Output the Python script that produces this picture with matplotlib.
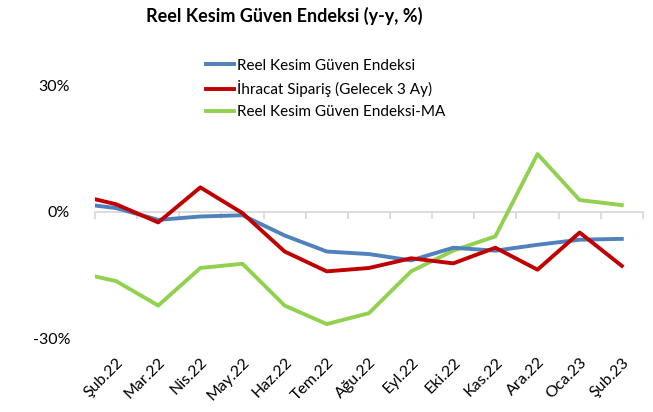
import numpy as np
import matplotlib
matplotlib.use("Agg")
import matplotlib.pyplot as plt

plt.rcParams['font.family'] = ['Lato', 'DejaVu Sans']

# Veriler (Oca.22 sadece sol kenardaki çizgi parçası için)
aylar = ['Oca.22', 'Şub.22', 'Mar.22', 'Nis.22', 'May.22', 'Haz.22', 'Tem.22',
         'Ağu.22', 'Eyl.22', 'Eki.22', 'Kas.22', 'Ara.22', 'Oca.23', 'Şub.23']
reel_kesim = [2.1, 0.9, -1.9, -1.1, -0.8, -5.6, -9.4, -10.0, -11.5, -8.5, -9.2, -7.8, -6.6, -6.4]
ihracat = [4.2, 1.8, -2.5, 5.8, -0.3, -9.4, -14.1, -13.3, -11.0, -12.2, -8.5, -13.7, -4.9, -12.8]
reel_kesim_ma = [-14.2, -16.4, -22.2, -13.3, -12.3, -22.2, -26.6, -24.0, -14.1, -9.2, -5.8, 13.7, 2.8, 1.6]

x = np.arange(len(aylar)) - 1

fig = plt.figure(figsize=(6.53, 4.12), dpi=100)
ax = fig.add_axes([0.1455, 0.158, 0.839, 0.717])

ymin, ymax = -32, 38
ax.set_ylim(ymin, ymax)
ax.set_xlim(-0.5, 12.5)

# sıfır çizgisi ve kategori çentikleri
sec = ax.secondary_xaxis((0 - ymin) / (ymax - ymin))
sec.spines['bottom'].set_color('#d9d9d9')
sec.spines['bottom'].set_linewidth(1.3)
sec.set_xticks(np.arange(-0.5, 13, 1))
sec.tick_params(axis='x', length=5, width=1.3, color='#d9d9d9', labelbottom=False)

ax.plot(x, reel_kesim, color='#4F81BD', lw=2.8, label='Reel Kesim Güven Endeksi', zorder=3)
ax.plot(x, ihracat, color='#C00000', lw=2.8, label='İhracat Sipariş (Gelecek 3 Ay)', zorder=4)
ax.plot(x, reel_kesim_ma, color='#92D050', lw=2.8, label='Reel Kesim Güven Endeksi-MA', zorder=2)

for s in ax.spines.values():
    s.set_visible(False)

ax.set_yticks([-30, 0, 30])
ax.set_yticklabels(['-30%', '0%', '30%'], fontsize=11.5)
ax.tick_params(axis='y', length=0, pad=18)

ax.set_xticks(x[1:])
ax.set_xticklabels(aylar[1:], rotation=45, ha='right', rotation_mode='anchor', fontsize=11.5)
ax.tick_params(axis='x', length=0, pad=6)

fig.text(0.435, 0.962, 'Reel Kesim Güven Endeksi (y-y, %)', ha='center', va='center',
         fontsize=13, fontweight='bold')

fig.legend(loc='upper left', bbox_to_anchor=(0.306, 0.872), frameon=False,
           fontsize=11, handlelength=1.85, handletextpad=0.2, labelspacing=0.5,
           borderaxespad=0)

fig.savefig('out.png', dpi=100)
